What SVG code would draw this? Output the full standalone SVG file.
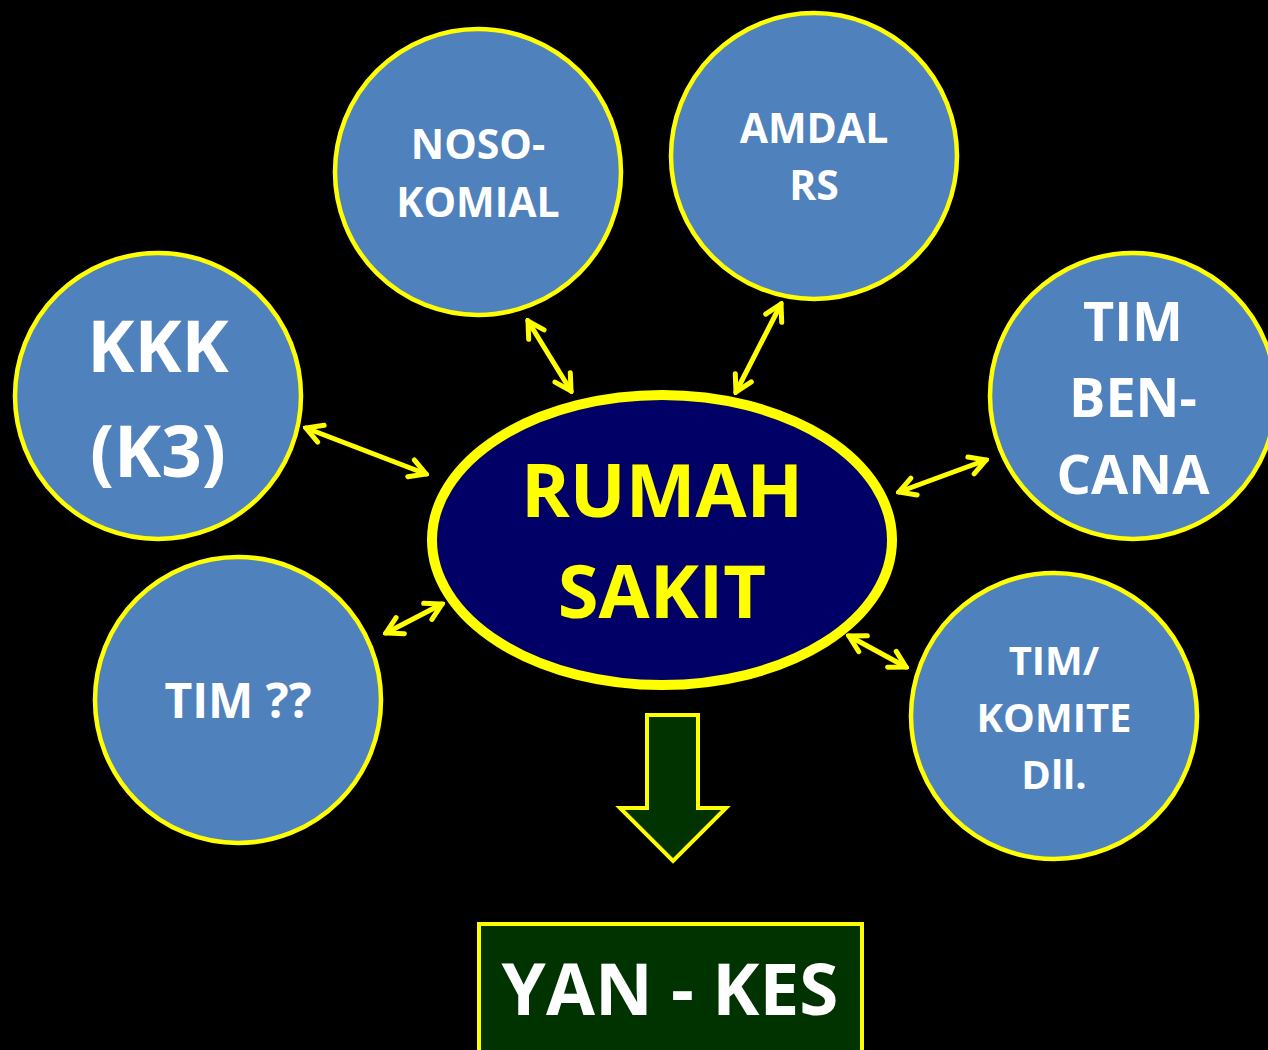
<svg xmlns="http://www.w3.org/2000/svg" width="1268" height="1050" viewBox="0 0 1268 1050">
<defs>
<style>
.c{fill:#4F81BD;stroke:#FFFF00;stroke-width:4.5}
.t{font-family:"Open Sans","Liberation Sans",sans-serif;font-weight:bold;fill:#FFFFFF;text-anchor:middle}
.ty{font-family:"Open Sans","Liberation Sans",sans-serif;font-weight:bold;fill:#FFFF00;text-anchor:middle}
.a{stroke:#FFFF00;stroke-width:5;fill:none;stroke-linecap:round;marker-start:url(#h);marker-end:url(#h)}
</style>
<marker id="h" viewBox="0 0 24 24" refX="21" refY="12" markerWidth="24" markerHeight="24" markerUnits="userSpaceOnUse" orient="auto-start-reverse">
<path d="M5,3 L21,12 L5,21" fill="none" stroke="#FFFF00" stroke-width="5" stroke-linecap="round" stroke-linejoin="miter"/>
</marker>
</defs>
<rect x="0" y="0" width="1268" height="1050" fill="#000000"/>
<g id="connectors">
<line class="a" x1="306" y1="428" x2="426" y2="474"/>
<line class="a" x1="528" y1="321" x2="571" y2="391"/>
<line class="a" x1="781" y1="304" x2="736" y2="392"/>
<line class="a" x1="986" y1="460" x2="899" y2="492"/>
<line class="a" x1="386" y1="633" x2="442" y2="604"/>
<line class="a" x1="849" y1="636" x2="906" y2="667"/>
</g>
<g id="noso">
<circle class="c" cx="478" cy="172" r="143"/>
<text class="t" x="478" y="159" font-size="41">NOSO-</text>
<text class="t" x="478" y="217" font-size="41">KOMIAL</text>
</g>
<g id="amdal">
<circle class="c" cx="814" cy="156" r="143"/>
<text class="t" x="814" y="143" font-size="41">AMDAL</text>
<text class="t" x="814" y="200" font-size="41">RS</text>
</g>
<g id="kkk">
<circle class="c" cx="158" cy="396" r="143"/>
<text class="t" x="158" y="372" font-size="71">KKK</text>
<text class="t" x="158" y="477" font-size="71">(K3)</text>
</g>
<g id="bencana">
<circle class="c" cx="1133" cy="396" r="143"/>
<text class="t" x="1133" y="341" font-size="54">TIM</text>
<text class="t" x="1133" y="417" font-size="54">BEN-</text>
<text class="t" x="1133" y="494" font-size="54">CANA</text>
</g>
<g id="timq">
<circle class="c" cx="238" cy="700" r="143"/>
<text class="t" x="238" y="718" font-size="48">TIM ??</text>
</g>
<g id="komite">
<circle class="c" cx="1054" cy="716" r="143"/>
<text class="t" x="1054" y="675" font-size="40">TIM/</text>
<text class="t" x="1054" y="732" font-size="40">KOMITE</text>
<text class="t" x="1054" y="789" font-size="40">Dll.</text>
</g>
<g id="rs">
<ellipse cx="662" cy="540" rx="230" ry="145" fill="#000066" stroke="#FFFF00" stroke-width="10"/>
<text class="ty" x="662" y="517" font-size="74">RUMAH</text>
<text class="ty" x="662" y="618" font-size="74">SAKIT</text>
</g>
<g id="bigarrow">
<path d="M647,715 L698,715 L698,808 L726,808 L673,861 L620,808 L647,808 Z" fill="#003300" stroke="#FFFF00" stroke-width="4"/>
</g>
<g id="yankes">
<rect x="479" y="924" width="383" height="140" fill="#003300" stroke="#FFFF00" stroke-width="4"/>
<text class="t" x="670" y="1015" font-size="71">YAN - KES</text>
</g>
</svg>
